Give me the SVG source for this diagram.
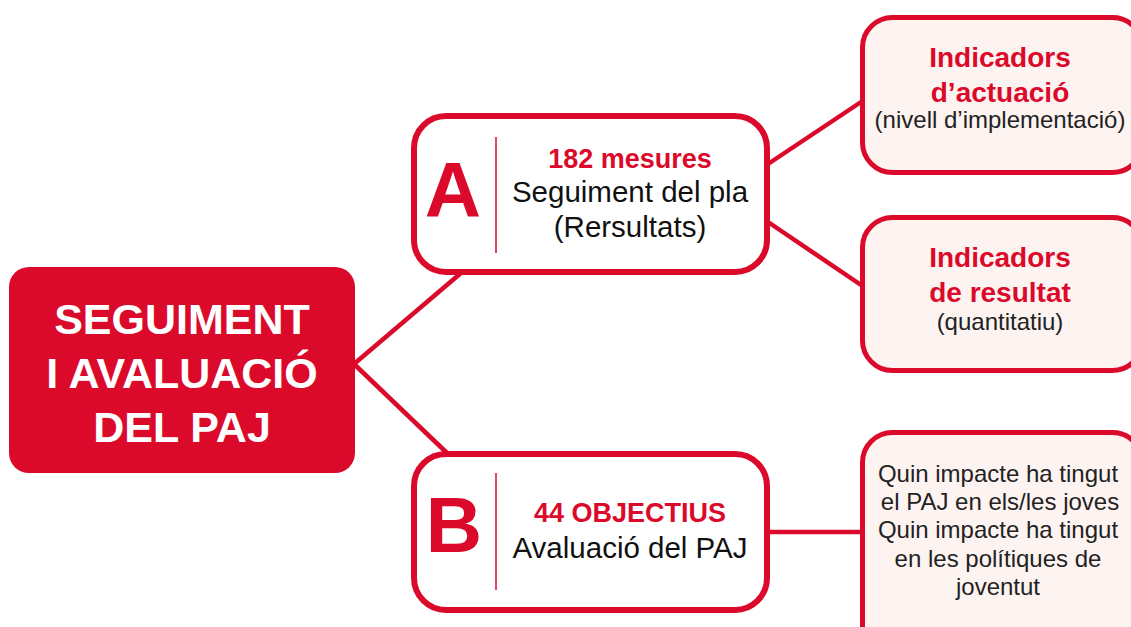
<svg xmlns="http://www.w3.org/2000/svg" width="1131" height="627" viewBox="0 0 1131 627">
<style>
.con{stroke:#dc0a2a;stroke-width:4.5;fill:none}
.box{fill:#ffffff;stroke:#dc0a2a;stroke-width:6}
.pbox{fill:#fdf3f1;stroke:#dc0a2a;stroke-width:5}
.div{stroke:#dc0a2a;stroke-width:1.5}
text{font-family:"Liberation Sans",Arial,sans-serif;text-anchor:middle}
.big{font-size:78px;font-weight:bold;fill:#dc0a2a}
.rb{font-size:27px;font-weight:bold;fill:#dc0a2a}
.bk{font-size:29.5px;fill:#111111}
.ib{font-size:28px;font-weight:bold;fill:#dc0a2a}
.sm{font-size:24px;fill:#222222}
.main{font-size:43px;font-weight:bold;fill:#ffffff}
</style>
<g id="connectors">
<line class="con" x1="354" y1="364" x2="461" y2="273"/>
<line class="con" x1="354" y1="364" x2="447" y2="453"/>
<line class="con" x1="768" y1="164" x2="864" y2="100"/>
<line class="con" x1="768" y1="222" x2="864" y2="287"/>
<line class="con" x1="768" y1="532" x2="864" y2="532"/>
</g>
<g id="main">
<rect x="9" y="267" width="346" height="206" rx="20" fill="#dc0a2a"/>
<text class="main" x="182" y="334">SEGUIMENT</text>
<text class="main" x="182" y="388">I AVALUACIÓ</text>
<text class="main" x="182" y="442">DEL PAJ</text>
</g>
<g id="nodeA">
<rect class="box" x="414" y="116" width="353" height="156" rx="32"/>
<line class="div" x1="496" y1="137" x2="496" y2="253"/>
<text class="big" x="453" y="217">A</text>
<text class="rb" x="630" y="168">182 mesures</text>
<text class="bk" x="630" y="202">Seguiment del pla</text>
<text class="bk" x="630" y="237">(Rersultats)</text>
</g>
<g id="nodeB">
<rect class="box" x="414" y="454" width="353" height="156" rx="32"/>
<line class="div" x1="496" y1="473" x2="496" y2="590"/>
<text class="big" x="454" y="552">B</text>
<text class="rb" x="630" y="522">44 OBJECTIUS</text>
<text class="bk" x="630" y="558">Avaluació del PAJ</text>
</g>
<g id="nodeA1">
<rect class="pbox" x="862.5" y="17.5" width="280" height="155" rx="30"/>
<text class="ib" x="1000" y="67">Indicadors</text>
<text class="ib" x="1000" y="102">d’actuació</text>
<text class="sm" x="1000" y="128">(nivell d’implementació)</text>
</g>
<g id="nodeA2">
<rect class="pbox" x="862.5" y="217.5" width="280" height="153" rx="30"/>
<text class="ib" x="1000" y="267">Indicadors</text>
<text class="ib" x="1000" y="302">de resultat</text>
<text class="sm" x="1000" y="330">(quantitatiu)</text>
</g>
<g id="nodeB1">
<rect class="pbox" x="862.5" y="432.5" width="280" height="230" rx="30"/>
<text class="sm" x="998" y="482">Quin impacte ha tingut</text>
<text class="sm" x="1000" y="510">el PAJ en els/les joves</text>
<text class="sm" x="998" y="538">Quin impacte ha tingut</text>
<text class="sm" x="998" y="567">en les polítiques de</text>
<text class="sm" x="998" y="595">joventut</text>
</g>
</svg>
